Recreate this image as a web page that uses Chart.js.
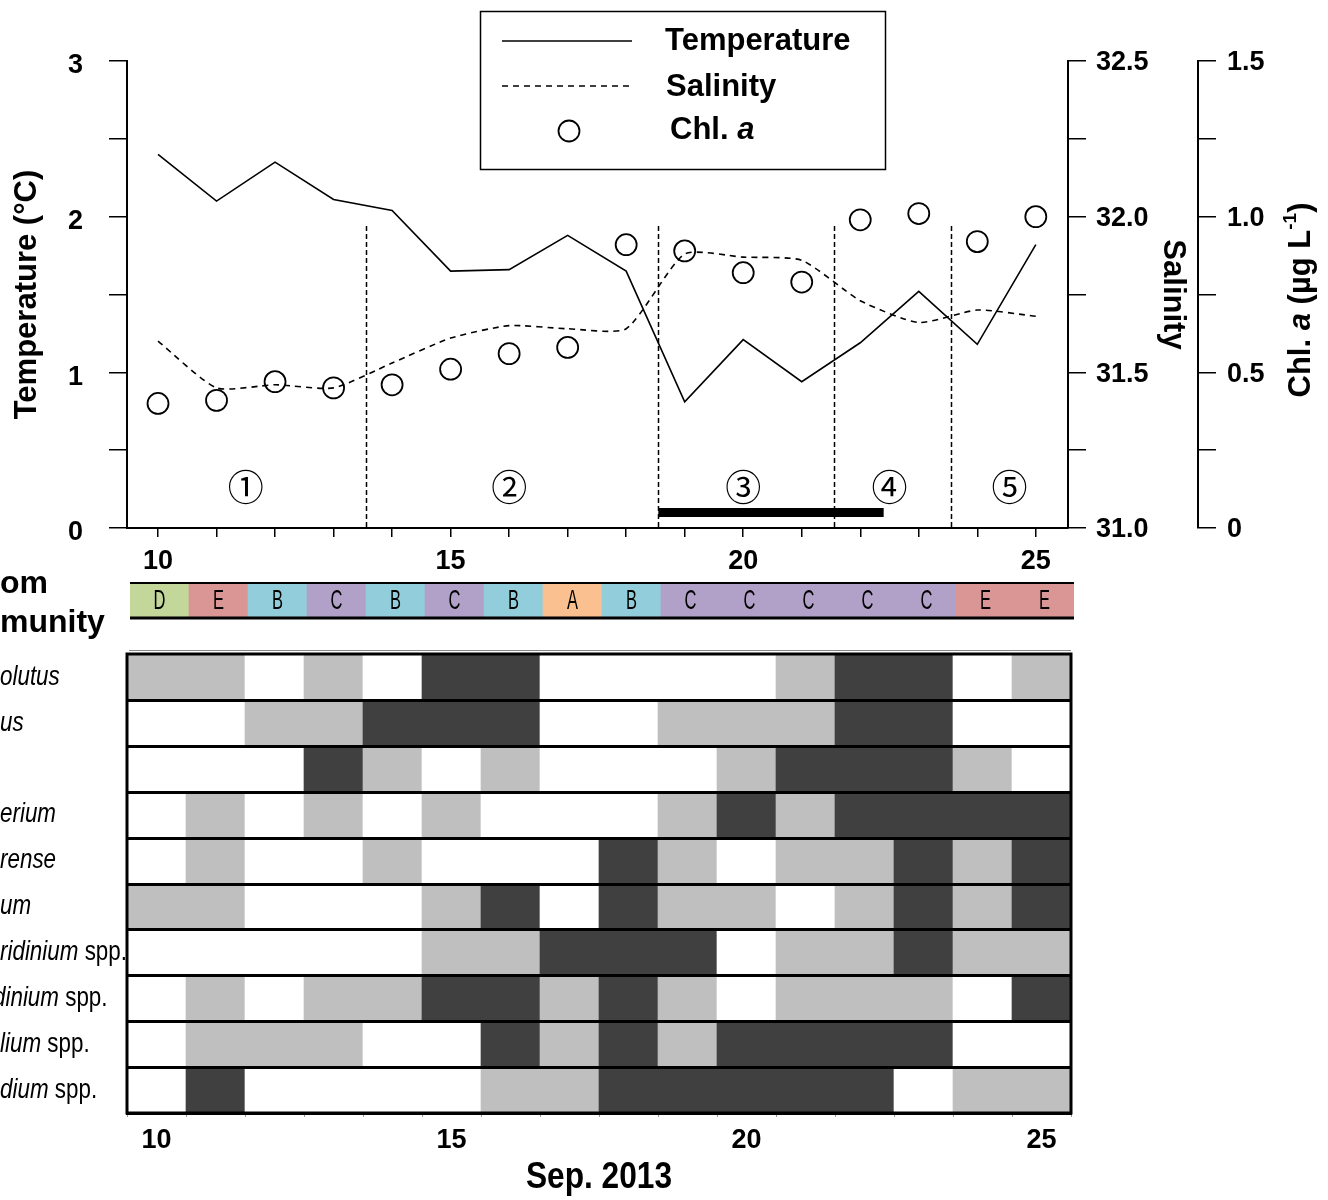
<!DOCTYPE html>
<html>
<head>
<meta charset="utf-8">
<script src="https://cdn.jsdelivr.net/npm/chart.js@4"></script>
<style>
  body { margin: 0; background: #fff; width: 1328px; height: 1200px; overflow: hidden; position: relative; }
  canvas { position: absolute; left: 0; }
</style>
</head>
<body>
<canvas id="chart_env" width="1328" height="580" style="top:0"></canvas>
<canvas id="chart_comm" width="1328" height="90" style="top:560px"></canvas>
<canvas id="chart_heat" width="1328" height="560" style="top:640px"></canvas>
<script>
// Sep. 2013 sampling days
const days = [10, 11, 12, 13, 14, 15, 16, 17, 18, 19, 20, 21, 22, 23, 24, 25];
const temperature = [2.40, 2.10, 2.35, 2.11, 2.04, 1.65, 1.66, 1.88, 1.65, 0.81, 1.21, 0.94, 1.19, 1.52, 1.18, 1.82];
const salinity = [31.60, 31.45, 31.46, 31.45, 31.53, 31.61, 31.65, 31.64, 31.64, 31.88, 31.87, 31.86, 31.73, 31.66, 31.70, 31.68];
const chlA = [0.40, 0.41, 0.47, 0.45, 0.46, 0.51, 0.56, 0.58, 0.91, 0.89, 0.82, 0.79, 0.99, 1.01, 0.92, 1.00];

// periods
const phaseBreaks = [13.55, 18.55, 21.55, 23.55];
const phaseBreakTop = 1.94;
const phaseNames = ['①', '②', '③', '④', '⑤'];
const phaseCenters = [11.5, 16.0, 20.0, 22.5, 24.55];
const phaseLabelLevel = 0.26;
const barSpan = [18.55, 22.4];
const barLevel = 0.1;

// diatom community
const community = ['D', 'E', 'B', 'C', 'B', 'C', 'B', 'A', 'B', 'C', 'C', 'C', 'C', 'C', 'E', 'E'];
const communityColors = { A: '#fac090', B: '#92cddc', C: '#b1a0c7', D: '#c4d79b', E: '#da9694' };

// species rows (visible part of name: italic, plain)
const speciesItalic = ['olutus', 'us', '', 'erium', 'rense', 'um', 'ridinium', 'dinium', 'lium', 'dium'];
const speciesPlain = ['', '', '', '', '', '', ' spp.', ' spp.', ' spp.', ' spp.'];
// 0 = absent, 1 = present, 2 = abundant
const levels = [
  [1, 1, 0, 1, 0, 2, 2, 0, 0, 0, 0, 1, 2, 2, 0, 1],
  [0, 0, 1, 1, 2, 2, 2, 0, 0, 1, 1, 1, 2, 2, 0, 0],
  [0, 0, 0, 2, 1, 0, 1, 0, 0, 0, 1, 2, 2, 2, 1, 0],
  [0, 1, 0, 1, 0, 1, 0, 0, 0, 1, 2, 1, 2, 2, 2, 2],
  [0, 1, 0, 0, 1, 0, 0, 0, 2, 1, 0, 1, 1, 2, 1, 2],
  [1, 1, 0, 0, 0, 1, 2, 0, 2, 1, 1, 0, 1, 2, 1, 2],
  [0, 0, 0, 0, 0, 1, 1, 2, 2, 2, 0, 1, 1, 2, 1, 1],
  [0, 1, 0, 1, 1, 2, 2, 1, 2, 1, 0, 1, 1, 1, 0, 2],
  [0, 1, 1, 1, 0, 0, 2, 1, 2, 1, 2, 2, 2, 2, 0, 0],
  [0, 2, 0, 0, 0, 0, 1, 1, 2, 2, 2, 2, 2, 0, 1, 1]
];
const levelColors = ['#ffffff', '#bfbfbf', '#404040'];

const SANS = '"Liberation Sans", Arial, sans-serif';
Chart.defaults.font.family = SANS;
Chart.defaults.color = '#000';

// draws a run of differently styled text pieces, optionally rotated / squeezed
function drawRuns(ctx, runs, x, y, opts) {
  opts = opts || {};
  ctx.save();
  ctx.translate(x, y);
  ctx.rotate(opts.angle || 0);
  ctx.scale(opts.sx || 1, opts.sy || 1);
  let total = 0;
  runs.forEach(r => { ctx.font = r.font; r.w = ctx.measureText(r.text).width; total += r.w; });
  let cx = opts.align === 'left' ? 0 : -total / 2;
  ctx.textAlign = 'left';
  ctx.textBaseline = 'middle';
  ctx.fillStyle = '#000';
  runs.forEach(r => { ctx.font = r.font; ctx.fillText(r.text, cx, r.dy || 0); cx += r.w; });
  ctx.restore();
}

function isHalf(v) { return Math.abs(v * 2 - Math.round(v * 2)) < 1e-6; }

const envDecor = {
  id: 'envDecor',
  afterDraw(chart) {
    const ctx = chart.ctx;
    const xs = chart.scales.x, ys = chart.scales.y;
    ctx.save();
    ctx.strokeStyle = '#000';
    // period separators
    ctx.lineWidth = 1.5;
    ctx.setLineDash([5, 3]);
    phaseBreaks.forEach(b => {
      const px = Math.round(xs.getPixelForValue(b)) + 0.5;
      ctx.beginPath();
      ctx.moveTo(px, ys.getPixelForValue(phaseBreakTop));
      ctx.lineTo(px, ys.getPixelForValue(0));
      ctx.stroke();
    });
    ctx.setLineDash([]);
    // thick bar
    ctx.lineWidth = 9;
    ctx.beginPath();
    ctx.moveTo(xs.getPixelForValue(barSpan[0]), ys.getPixelForValue(barLevel));
    ctx.lineTo(xs.getPixelForValue(barSpan[1]), ys.getPixelForValue(barLevel));
    ctx.stroke();
    // period numbers
    ctx.fillStyle = '#000';
    ctx.font = '36px "Noto Sans CJK JP", "DejaVu Sans", sans-serif';
    ctx.textAlign = 'center';
    ctx.textBaseline = 'middle';
    phaseNames.forEach((n, i) => {
      ctx.fillText(n, xs.getPixelForValue(phaseCenters[i]), ys.getPixelForValue(phaseLabelLevel));
    });

    // legend box
    ctx.lineWidth = 1.5;
    ctx.strokeRect(480.5, 11.5, 405, 158);
    ctx.lineWidth = 1.6;
    ctx.beginPath(); ctx.moveTo(502, 41); ctx.lineTo(632, 41); ctx.stroke();
    ctx.setLineDash([6, 5]);
    ctx.beginPath(); ctx.moveTo(502, 86); ctx.lineTo(632, 86); ctx.stroke();
    ctx.setLineDash([]);
    ctx.lineWidth = 1.8;
    ctx.beginPath(); ctx.arc(569, 131, 10.5, 0, Math.PI * 2); ctx.stroke();
    const lf = 'bold 31px ' + SANS;
    drawRuns(ctx, [{ text: 'Temperature', font: lf }], 665, 41, { align: 'left' });
    drawRuns(ctx, [{ text: 'Salinity', font: lf }], 666, 87, { align: 'left' });
    drawRuns(ctx, [{ text: 'Chl. ', font: lf }, { text: 'a', font: 'italic ' + lf }], 670, 130, { align: 'left' });

    // Chl. a axis title
    const tf = 'bold 31px ' + SANS;
    drawRuns(ctx, [
      { text: 'Chl. ', font: tf },
      { text: 'a', font: 'italic ' + tf },
      { text: ' (µg L', font: tf },
      { text: '-1', font: 'bold 19px ' + SANS, dy: -10 },
      { text: ')', font: tf }
    ], 1301, 300, { angle: -Math.PI / 2 });
    ctx.restore();
  }
};

const tickFont = { size: 27, weight: 'bold' };
const axisGrid = { drawOnChartArea: false, tickLength: 18, color: '#000', lineWidth: 1.5 };
const axisBorder = { color: '#000', width: 2 };

new Chart(document.getElementById('chart_env'), {
  type: 'line',
  data: {
    datasets: [{
      label: 'Temperature',
      data: days.map((d, i) => ({ x: d, y: temperature[i] })),
      yAxisID: 'y',
      borderColor: '#000',
      borderWidth: 1.6,
      pointRadius: 0,
      tension: 0,
      fill: false
    }, {
      label: 'Salinity',
      data: days.map((d, i) => ({ x: d, y: salinity[i] })),
      yAxisID: 'ySal',
      borderColor: '#000',
      borderWidth: 1.6,
      borderDash: [6, 5],
      pointRadius: 0,
      tension: 0.2,
      fill: false
    }, {
      label: 'Chl. a',
      data: days.map((d, i) => ({ x: d, y: chlA[i] })),
      yAxisID: 'yChl',
      showLine: false,
      pointRadius: 10.5,
      pointBorderWidth: 1.8,
      pointBorderColor: '#000',
      pointBackgroundColor: 'rgba(0,0,0,0)'
    }]
  },
  options: {
    responsive: false,
    devicePixelRatio: 1,
    animation: false,
    layout: { padding: { top: 61, left: 0, right: 0, bottom: 0 } },
    plugins: { legend: { display: false }, tooltip: { enabled: false } },
    scales: {
      x: {
        type: 'linear', min: 9.47, max: 25.55,
        afterBuildTicks: s => { s.ticks = days.map(v => ({ value: v })); },
        ticks: { callback: v => (v % 5 === 0 ? String(v) : ''), font: tickFont, padding: 8, autoSkip: false, maxRotation: 0 },
        grid: { drawOnChartArea: false, tickLength: 9, color: '#000', lineWidth: 1.5 },
        border: axisBorder,
        afterFit: s => { s.height = 52; }
      },
      y: {
        position: 'left', min: 0, max: 3,
        ticks: { stepSize: 0.5, callback: v => (v % 1 === 0 ? String(v) : ''), font: tickFont, padding: 26, labelOffset: 5 },
        grid: axisGrid,
        border: axisBorder,
        title: { display: true, text: 'Temperature (°C)', font: { size: 31, weight: 'bold' }, padding: { top: 9, bottom: 0 } },
        afterFit: s => { s.width = 127; }
      },
      ySal: {
        position: 'right', min: 31, max: 32.5, weight: 0,
        ticks: { stepSize: 0.25, callback: v => (isHalf(v) ? v.toFixed(1) : ''), font: tickFont, padding: 10, labelOffset: 2 },
        grid: axisGrid,
        border: axisBorder,
        title: { display: true, text: 'Salinity', font: { size: 31, weight: 'bold' }, padding: { top: 7, bottom: 0 } },
        afterFit: s => { s.width = 130; }
      },
      yChl: {
        position: 'right', min: 0, max: 1.5, weight: 1,
        ticks: { stepSize: 0.25, callback: v => (v === 0 ? '0' : (isHalf(v) ? v.toFixed(1) : '')), font: tickFont, padding: 11, labelOffset: 2 },
        grid: axisGrid,
        border: axisBorder,
        afterFit: s => { s.width = 130; }
      }
    }
  },
  plugins: [envDecor]
});

const commDecor = {
  id: 'commDecor',
  afterDraw(chart) {
    const ctx = chart.ctx;
    const a = chart.chartArea;
    const meta = chart.getDatasetMeta(0);
    ctx.save();
    meta.data.forEach((bar, i) => {
      drawRuns(ctx, [{ text: community[i], font: '22px ' + SANS }], bar.x, (a.top + a.bottom) / 2 + 1, { sx: 0.75, sy: 1.25 });
    });
    ctx.strokeStyle = '#000';
    ctx.lineWidth = 2;
    ctx.beginPath(); ctx.moveTo(a.left, a.top); ctx.lineTo(a.right, a.top); ctx.stroke();
    ctx.lineWidth = 3;
    ctx.beginPath(); ctx.moveTo(a.left, a.bottom); ctx.lineTo(a.right, a.bottom); ctx.stroke();
    // row header (left part cut off in the original figure)
    drawRuns(ctx, [{ text: 'om', font: 'bold 32px ' + SANS }], 0, 24, { align: 'left' });
    drawRuns(ctx, [{ text: 'munity', font: 'bold 32px ' + SANS }], 0, 63, { align: 'left' });
    ctx.restore();
  }
};

new Chart(document.getElementById('chart_comm'), {
  type: 'bar',
  data: {
    labels: days,
    datasets: [{
      data: community.map(() => 1),
      backgroundColor: community.map(c => communityColors[c]),
      borderWidth: 0,
      categoryPercentage: 1,
      barPercentage: 1
    }]
  },
  options: {
    responsive: false,
    devicePixelRatio: 1,
    animation: false,
    layout: { padding: { top: 23, bottom: 32, left: 130, right: 254 } },
    plugins: { legend: { display: false }, tooltip: { enabled: false } },
    scales: {
      x: { display: false },
      y: { display: false, min: 0, max: 1 }
    }
  },
  plugins: [commDecor]
});

const heatDecor = {
  id: 'heatDecor',
  afterDraw(chart) {
    const ctx = chart.ctx;
    const a = chart.chartArea;
    const ys = chart.scales.y;
    ctx.save();
    ctx.strokeStyle = '#000';
    ctx.lineWidth = 3;
    for (let k = 1; k < levels.length; k++) {
      const py = Math.round(ys.getPixelForValue(k)) + 0.5;
      ctx.beginPath(); ctx.moveTo(a.left, py); ctx.lineTo(a.right, py); ctx.stroke();
    }
    ctx.strokeRect(a.left, a.top, a.right - a.left, a.bottom - a.top);
    ctx.lineWidth = 1;
    ctx.strokeStyle = '#888';
    ctx.beginPath(); ctx.moveTo(a.left + 2, a.top - 3.5); ctx.lineTo(a.right, a.top - 3.5); ctx.stroke();
    speciesItalic.forEach((name, i) => {
      const y = ys.getPixelForValue(levels.length - i - 0.5);
      drawRuns(ctx, [
        { text: name, font: 'italic 28px ' + SANS },
        { text: speciesPlain[i], font: '28px ' + SANS }
      ], name === 'dinium' ? -7 : 0, y, { align: 'left', sx: 0.8 });
    });
    // axis title
    drawRuns(ctx, [{ text: 'Sep. 2013', font: 'bold 36px ' + SANS }], (a.left + a.right) / 2, 538, { sx: 0.88 });
    ctx.restore();
  }
};

new Chart(document.getElementById('chart_heat'), {
  type: 'bar',
  data: {
    labels: days,
    datasets: levels.slice().reverse().map(row => ({
      data: row.map(() => 1),
      backgroundColor: row.map(l => levelColors[l]),
      borderWidth: 0,
      categoryPercentage: 1,
      barPercentage: 1
    }))
  },
  options: {
    responsive: false,
    devicePixelRatio: 1,
    animation: false,
    layout: { padding: { top: 14, bottom: 0, left: 0, right: 257 } },
    plugins: { legend: { display: false }, tooltip: { enabled: false } },
    scales: {
      x: {
        stacked: true, z: 1,
        ticks: { callback: (v, i) => (days[i] % 5 === 0 ? String(days[i]) : ''), font: { size: 27, weight: 'bold' }, padding: 7, autoSkip: false, maxRotation: 0 },
        grid: { offset: true, drawOnChartArea: false, tickLength: 4, color: '#999' },
        border: { color: '#000', width: 3 },
        afterFit: s => { s.height = 87; }
      },
      y: {
        stacked: true, min: 0, max: levels.length,
        ticks: { stepSize: 1, display: false },
        grid: { display: false },
        border: { display: false },
        afterFit: s => { s.width = 127; }
      }
    }
  },
  plugins: [heatDecor]
});
</script>
</body>
</html>
